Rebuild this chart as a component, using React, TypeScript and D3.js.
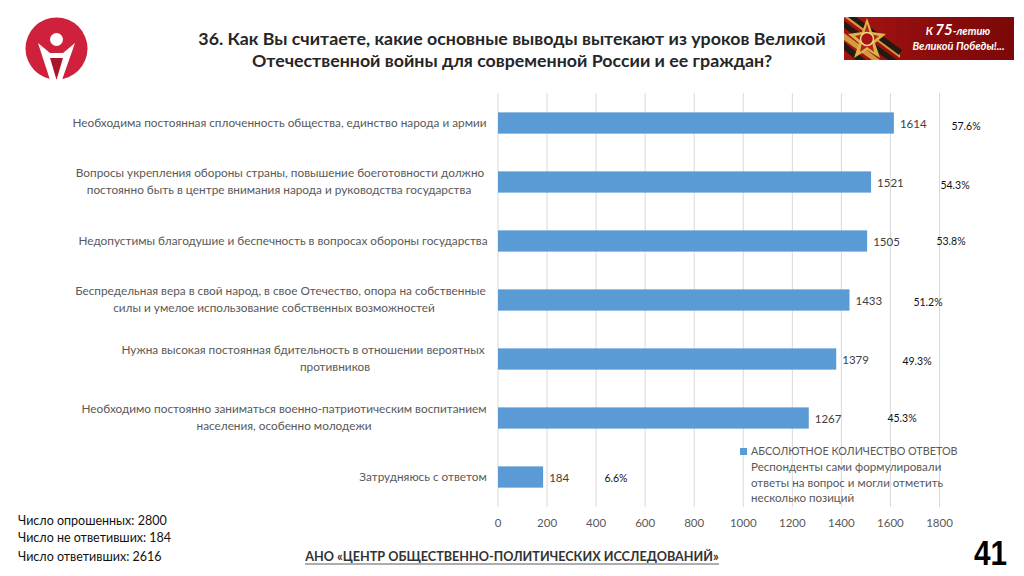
import React from "react";
import * as d3 from "d3";

const categories: string[][] = [
  ["Необходима постоянная сплоченность общества, единство народа и армии"],
  ["Вопросы укрепления обороны страны, повышение боеготовности должно", "постоянно быть в центре внимания народа и руководства государства"],
  ["Недопустимы благодушие и беспечность в вопросах обороны государства"],
  ["Беспредельная вера в свой народ, в свое Отечество, опора на собственные", "силы и умелое использование собственных возможностей"],
  ["Нужна высокая постоянная бдительность в отношении вероятных", "противников"],
  ["Необходимо постоянно заниматься военно-патриотическим воспитанием", "населения, особенно молодежи"],
  ["Затрудняюсь с ответом"],
];
const values = [1614, 1521, 1505, 1433, 1379, 1267, 184];
const percents = ["57.6%", "54.3%", "53.8%", "51.2%", "49.3%", "45.3%", "6.6%"];
const percentCenters = [966, 955, 951, 928, 917, 902, 616];
const percentBaselines = [130, 189, 245, 306, 365, 422, 482];
const labelCenters = [
  [279.5],
  [280, 279],
  [283],
  [280.5, 274],
  [303, 335],
  [284, 284],
  [423],
];
const ticks = [0, 200, 400, 600, 800, 1000, 1200, 1400, 1600, 1800];
const titleLines = [
  "36. Как Вы считаете, какие основные выводы вытекают из уроков Великой",
  "Отечественной войны для современной России и ее граждан?",
];
const legendTitle = "АБСОЛЮТНОЕ КОЛИЧЕСТВО ОТВЕТОВ";
const legendNote = ["Респонденты сами формулировали", "ответы на вопрос и могли отметить", "несколько позиций"];
const stats = ["Число опрошенных: 2800", "Число не ответивших: 184", "Число ответивших: 2616"];
const footer = "АНО «ЦЕНТР ОБЩЕСТВЕННО-ПОЛИТИЧЕСКИХ ИССЛЕДОВАНИЙ»";

const FONT = "Lato, 'Open Sans', sans-serif";
const x = d3.scaleLinear().domain([0, 1800]).range([498, 939.5]);
const y = d3.scaleBand<number>().domain(d3.range(values.length)).range([93.5, 506.5]).paddingInner(0.64).paddingOuter(0.32);

const statY = [525, 542, 561];
const noteY = [471, 487, 502];

export default function App() {
  const bw = y.bandwidth();
  return (
    <svg width={1024} height={576} style={{ position: "absolute", left: 0, top: 0, background: "#fff" }} fontFamily={FONT}>
      <defs>
        <linearGradient id="ban" x1="0" x2="1" y1="0" y2="0">
          <stop offset="0" stopColor="#a81414" />
          <stop offset="0.5" stopColor="#8c0c0c" />
          <stop offset="1" stopColor="#7c0808" />
        </linearGradient>
        <clipPath id="banClip"><rect x={844} y={17} width={170} height={43} /></clipPath>
      </defs>

      {/* logo */}
      <circle cx={56.5} cy={48.5} r={31} fill="#d0213c" />
      <path d="M50 57 L63 57 L56.5 79 Z" fill="#a8152c" />
      <circle cx={56.5} cy={39.5} r={6.5} fill="#fff" />
      <path d="M38 43 L50 53 L63 53 L75 43 L62 80 L56.5 80 L63 58 L50 58 L56.5 80 L50 80 Z" fill="#fff" />

      {/* banner */}
      <rect x={844} y={17} width={170} height={43} fill="url(#ban)" />
      <g clipPath="url(#banClip)">
        <path d="M844 17 L852 17 L900 52 L900 58 Z" fill="#d59a3f" />
        <path d="M844 21 L897 60 L888 60 L844 28 Z" fill="#231a12" />
        <path d="M848 17 L856 17 L902 50 L899 55 Z" fill="#231a12" />
        <path d="M844 33 L880 60 L872 60 L844 40 Z" fill="#d59a3f" />
        <path d="M844 42 L866 60 L856 60 L844 50 Z" fill="#231a12" />
      </g>
      <path d="M867 18 L872 32 L886 34 L875 43 L880 58 L867 50 L854 58 L859 43 L848 34 L862 32 Z" fill="#d9b44a" />
      <path d="M867 24 L870 34 L879 36 L872 42 L874 52 L867 47 L860 52 L862 42 L855 36 L864 34 Z" fill="#b42318" />
      <circle cx={867} cy={39} r={6.5} fill="#a81414" stroke="#f0d890" strokeWidth={1.5} />
      <text x={958} y={35} textAnchor="middle" fontSize={11} fontStyle="italic" fontWeight={700} fill="#fff">
        К <tspan fontSize={15}>75</tspan>-летию
      </text>
      <text x={958.5} y={50} textAnchor="middle" fontSize={11} fontStyle="italic" fontWeight={700} fill="#fff">Великой Победы!...</text>

      {/* title */}
      {titleLines.map((t, i) => (
        <text key={i} x={512} y={45 + i * 22} textAnchor="middle" fontSize={17.8} fontWeight={700} fill="#262626">{t}</text>
      ))}

      {/* gridlines */}
      {ticks.map((t) => (
        <line key={t} x1={x(t)} x2={x(t)} y1={93} y2={507} stroke="#d9d9d9" strokeWidth={1} />
      ))}
      {ticks.map((t) => (
        <text key={t} x={x(t)} y={527} textAnchor="middle" fontSize={11.5} fill="#595959">{t}</text>
      ))}

      {/* bars */}
      {values.map((v, i) => {
        const by = y(i)!;
        const cy = by + bw / 2;
        const lines = categories[i];
        return (
          <g key={i}>
            <rect x={x(0)} y={by} width={x(v) - x(0)} height={bw} fill="#5b9bd5" />
            <text x={x(v) + 6} y={cy + 4.5} fontSize={11.5} fill="#404040">{v}</text>
            <text x={percentCenters[i]} y={percentBaselines[i]} fontSize={10.5} fill="#111" textAnchor="middle">{percents[i]}</text>
            {lines.map((l, j) => (
              <text key={j} x={labelCenters[i][j]} y={cy + 3.5 + (j - (lines.length - 1) / 2) * 16.5} textAnchor="middle" fontSize={11.8} fill="#595959">{l}</text>
            ))}
          </g>
        );
      })}

      {/* legend */}
      <rect x={740} y={448} width={7} height={7} fill="#5b9bd5" />
      <text x={751} y={455} fontSize={10.8} fill="#595959">{legendTitle}</text>
      {legendNote.map((l, i) => (
        <text key={i} x={751} y={noteY[i]} fontSize={11.6} fill="#595959">{l}</text>
      ))}

      {/* stats */}
      {stats.map((s, i) => (
        <text key={i} x={18} y={statY[i]} fontSize={12.5} fill="#111">{s}</text>
      ))}

      <text x={512} y={561} textAnchor="middle" fontSize={12.65} fontWeight={700} fill="#333">{footer}</text>
      <line x1={305} x2={719} y1={564} y2={564} stroke="#333" strokeWidth={0.8} />
      <text x={974} y={565} textLength={33} lengthAdjust="spacingAndGlyphs" fontSize={35} fontWeight={700} fontFamily="'Liberation Sans', Arial, sans-serif" fill="#000">41</text>
    </svg>
  );
}
